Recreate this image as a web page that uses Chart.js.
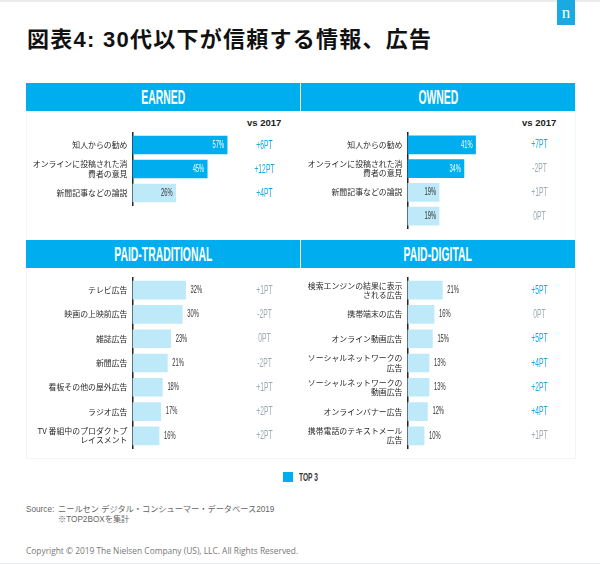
<!DOCTYPE html>
<html>
<head>
<meta charset="utf-8">
<script src="https://cdn.jsdelivr.net/npm/chart.js@4"></script>
<style>
html, body { margin: 0; padding: 0; background: #fff; }
#page { position: relative; width: 600px; height: 564px; overflow: hidden; font-family: "Liberation Sans", "Noto Sans CJK JP", sans-serif; }
#page > * { position: absolute; }
canvas { position: absolute; }
.head { background: #00aeef; color: #fff; height: 28px; top: 83px; text-align: center; line-height: 28px; font-size: 20px; font-weight: bold; }
.head span { display: inline-block; transform: scaleX(.52); white-space: nowrap; }
.vs { font-weight: bold; font-size: 9.5px; line-height: 11px; color: #222; top: 117px; }
.foot { font-size: 8.2px; line-height: 10px; color: #666; white-space: nowrap; }
</style>
</head>
<body>
<div id="page">
  <div style="left:0;top:0;width:600px;height:2px;background:#e9ebec"></div>
  <div style="left:0;top:563px;width:600px;height:1px;background:#e9ebec"></div>
  <div style="left:557px;top:0;width:18px;height:25px;background:#1aa9e0;color:#fff;font:17px/25px 'Liberation Serif',serif;text-align:center">n</div>
  <div id="title" style="left:27px;top:26px;font:bold 22px/28px 'Liberation Sans','Noto Sans CJK JP',sans-serif;letter-spacing:1.25px;color:#111;white-space:nowrap">図表4: 30代以下が信頼する情報、広告</div>

  <div style="left:26px;top:83px;width:548px;height:156px;border:1px solid #eef9fd;border-bottom-color:#c6eefb"></div>
  <div style="left:26px;top:240px;width:548px;height:217px;border:1px solid #f3f4f5"></div>

  <div class="head" style="left:26px;width:274px"><span>EARNED</span></div>
  <div class="head" style="left:301px;width:274px"><span>OWNED</span></div>
  <div class="head" style="left:26px;width:274px;top:240px"><span>PAID-TRADITIONAL</span></div>
  <div class="head" style="left:301px;width:274px;top:240px"><span>PAID-DIGITAL</span></div>

  <div class="vs" style="left:247px">vs 2017</div>
  <div class="vs" style="left:522px">vs 2017</div>

  <canvas id="earned" width="274" height="128" style="left:26px;top:111px"></canvas>
  <canvas id="owned" width="274" height="128" style="left:301px;top:111px"></canvas>
  <canvas id="traditional" width="274" height="189" style="left:26px;top:268px"></canvas>
  <canvas id="digital" width="274" height="189" style="left:301px;top:268px"></canvas>

  <div style="left:283px;top:472px;width:10px;height:10px;background:#00aeef"></div>
  <div style="left:299px;top:471px;font-size:11px;line-height:12px;color:#333;font-weight:bold;transform:scaleX(.6);transform-origin:left"><span>TOP 3</span></div>

  <div class="foot" style="left:26px;top:505px">Source:</div>
  <div class="foot" style="left:58px;top:505px">ニールセン デジタル・コンシューマー・データベース2019</div>
  <div class="foot" style="left:58px;top:515px">※TOP2BOXを集計</div>
  <div class="foot" style="left:26px;top:546px;font-family:'Open Sans',sans-serif;font-size:8.4px;color:#777">Copyright © 2019 The Nielsen Company (US), LLC. All Rights Reserved.</div>
</div>

<script>
const earnedLabels = ["知人からの勧め", ["オンラインに投稿された消", "費者の意見"], "新聞記事などの論説"];
const earnedValues = [57, 45, 26];
const earnedDeltas = ["+6PT", "+12PT", "+4PT"];
const earnedTop = [true, true, false];
const earnedRising = [true, true, true];

const ownedLabels = ["知人からの勧め", ["オンラインに投稿された消", "費者の意見"], "新聞記事などの論説", ""];
const ownedValues = [41, 34, 19, 19];
const ownedDeltas = ["+7PT", "-2PT", "+1PT", "0PT"];
const ownedTop = [true, true, false, false];
const ownedRising = [true, false, false, false];

const traditionalLabels = ["テレビ広告", "映画の上映前広告", "雑誌広告", "新聞広告", "看板その他の屋外広告", "ラジオ広告", ["TV 番組中のプロダクトプ", "レイスメント"]];
const traditionalValues = [32, 30, 23, 21, 18, 17, 16];
const traditionalDeltas = ["+1PT", "-2PT", "0PT", "-2PT", "+1PT", "+2PT", "+2PT"];
const traditionalTop = [false, false, false, false, false, false, false];
const traditionalRising = [false, false, false, false, false, false, false];

const digitalLabels = [["検索エンジンの結果に表示", "される広告"], "携帯端末の広告", "オンライン動画広告", ["ソーシャルネットワークの", "広告"], ["ソーシャルネットワークの", "動画広告"], "オンラインバナー広告", ["携帯電話のテキストメール", "広告"]];
const digitalValues = [21, 16, 15, 13, 13, 12, 10];
const digitalDeltas = ["+5PT", "0PT", "+5PT", "+4PT", "+2PT", "+4PT", "+1PT"];
const digitalTop = [false, false, false, false, false, false, false];
const digitalRising = [true, false, true, true, true, true, false];

const BLUE = "#00aeef";
const LIGHT = "#bde9f9";

// condensed text, canvas has no narrow face so squeeze it
function narrowText(ctx, text, x, y, align, size, squeeze, color) {
    ctx.save();
    ctx.translate(x, y);
    ctx.scale(squeeze, 1);
    ctx.font = size + "px 'Liberation Sans'";
    ctx.fillStyle = color;
    ctx.textAlign = align;
    ctx.textBaseline = "middle";
    ctx.fillText(text, 0, 0);
    ctx.restore();
}

function makeChart(id, labels, values, deltas, top, rising, inside, padTop, padBottom) {
    const rowLabels = {
        id: "rowLabels",
        afterDatasetsDraw: function (chart) {
            const ctx = chart.ctx;
            const xScale = chart.scales.x;
            const yScale = chart.scales.y;
            values.forEach(function (v, i) {
                const y = yScale.getPixelForValue(i);
                const end = xScale.getPixelForValue(v);
                if (inside) {
                    narrowText(ctx, v + "%", end - 3, y, "right", 10.5, 0.55, top[i] ? "#fff" : "#333");
                } else {
                    narrowText(ctx, v + "%", end + 5, y, "left", 10.5, 0.55, "#333");
                }
                narrowText(ctx, deltas[i], xScale.getPixelForValue(79.5), y, "center", 13, 0.52, rising[i] ? "#1fa8e0" : "#9fabb4");
            });
        }
    };

    new Chart(document.getElementById(id), {
        type: "bar",
        data: {
            labels: labels,
            datasets: [{
                data: values,
                backgroundColor: top.map(function (t) { return t ? BLUE : LIGHT; }),
                barThickness: 18
            }]
        },
        options: {
            indexAxis: "y",
            responsive: false,
            animation: false,
            layout: { padding: { top: padTop, bottom: padBottom, left: 0, right: 1.5 } },
            plugins: { legend: { display: false }, tooltip: { enabled: false } },
            scales: {
                x: { display: false, min: 0, max: 100 },
                y: {
                    afterFit: function (scale) {
                        scale.width = 106.5;
                        // keep the axis length fixed, no room for tick label overhang
                        scale.paddingTop = 0;
                        scale.paddingBottom = 0;
                    },
                    grid: { display: false, drawTicks: false, tickLength: 0 },
                    border: { display: true, color: "#222", width: 1.5 },
                    ticks: {
                        autoSkip: false,
                        padding: 5,
                        color: "#2a2a2a",
                        font: { family: "'Noto Sans CJK JP'", size: 7.9, lineHeight: 1.15 }
                    }
                }
            }
        },
        plugins: [rowLabels]
    });
}

makeChart("earned", earnedLabels, earnedValues, earnedDeltas, earnedTop, earnedRising, true, 22, 34);
makeChart("owned", ownedLabels, ownedValues, ownedDeltas, ownedTop, ownedRising, true, 22, 11);
makeChart("traditional", traditionalLabels, traditionalValues, traditionalDeltas, traditionalTop, traditionalRising, false, 10, 9);
makeChart("digital", digitalLabels, digitalValues, digitalDeltas, digitalTop, digitalRising, false, 10, 9);
</script>
</body>
</html>
